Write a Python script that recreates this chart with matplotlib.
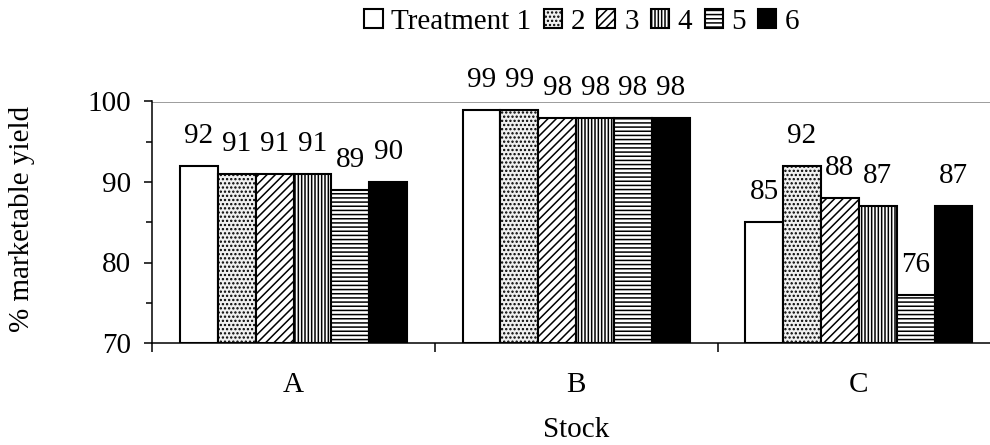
import matplotlib
matplotlib.use("Agg")
import matplotlib.pyplot as plt
from matplotlib.patches import Patch
import numpy as np

# Data
stocks = ["A", "B", "C"]
treatments = ["Treatment 1", "2", "3", "4", "5", "6"]
yield_a = [92, 91, 91, 91, 89, 90]
yield_b = [99, 99, 98, 98, 98, 98]
yield_c = [85, 92, 88, 87, 76, 87]
yield_ticks = [70, 80, 90, 100]

values = np.array([yield_a, yield_b, yield_c])

plt.rcParams["font.family"] = ["Liberation Serif", "DejaVu Serif"]
plt.rcParams["hatch.linewidth"] = 1.1

styles = [
    dict(facecolor="white", hatch=None),
    dict(facecolor="#f0f0f0", hatch="...."),
    dict(facecolor="white", hatch="////"),
    dict(facecolor="white", hatch="|||||"),
    dict(facecolor="white", hatch="----"),
    dict(facecolor="black", hatch=None),
]

fig = plt.figure(figsize=(9.9, 4.45), dpi=100)
ax = fig.add_axes([152.3 / 990, 102 / 445, (1000.1 - 152.3) / 990, (343 - 101.5) / 445])

fs = 21
n = len(treatments)
bw = 0.134
x = np.arange(len(stocks))
base = 70

for i in range(n):
    pos = x + (i - (n - 1) / 2) * bw
    heights = values[:, i] - base
    ax.bar(pos, heights, bw, bottom=base, edgecolor="black", linewidth=1.5,
           zorder=3, **styles[i])
    for xp, v in zip(pos, values[:, i]):
        ax.annotate(f"{v}", (xp, v), xytext=(0, 21.5), textcoords="offset points",
                    ha="center", va="center", fontsize=fs, zorder=4)

ax.set_xlim(-0.5, 2.5)
ax.set_ylim(70, 100)

# Category separators as major ticks, stock names as minor tick labels
ax.set_xticks([-0.5, 0.5, 1.5, 2.5])
ax.set_xticklabels([])
ax.set_xticks(x, minor=True)
ax.set_xticklabels(stocks, minor=True, fontsize=fs)
ax.tick_params(axis="x", which="major", direction="out", length=6.5, width=1.1)
ax.tick_params(axis="x", which="minor", length=0, pad=21)

ax.set_yticks(yield_ticks)
ax.set_yticks([75, 85, 95], minor=True)
ax.tick_params(axis="y", which="major", direction="out", length=6, width=1.1,
               labelsize=fs, pad=9)
ax.tick_params(axis="y", which="minor", direction="out", length=4.3, width=1.1)

for s in ["top", "right"]:
    ax.spines[s].set_visible(False)
for s in ["left", "bottom"]:
    ax.spines[s].set_linewidth(1.1)
    ax.spines[s].set_zorder(5)

ax.axhline(100, color="#808080", linewidth=1.8, zorder=1)

fig.text(22.5 / 990, (445 - 219) / 445, "% marketable yield", rotation=90,
         ha="center", va="center", fontsize=fs)
fig.text(576 / 990, (445 - 430) / 445, "Stock", ha="center", va="center", fontsize=fs)

handles = [Patch(edgecolor="black", linewidth=1.5, **st) for st in styles]
fig.legend(handles, treatments, loc="center", bbox_to_anchor=(582 / 990, (445 - 22) / 445),
           ncol=n, frameon=False, fontsize=fs, handlelength=0.62, handleheight=0.62,
           handletextpad=0.3, columnspacing=0.42, borderpad=0, borderaxespad=0)

fig.savefig("out.png", dpi=100)
